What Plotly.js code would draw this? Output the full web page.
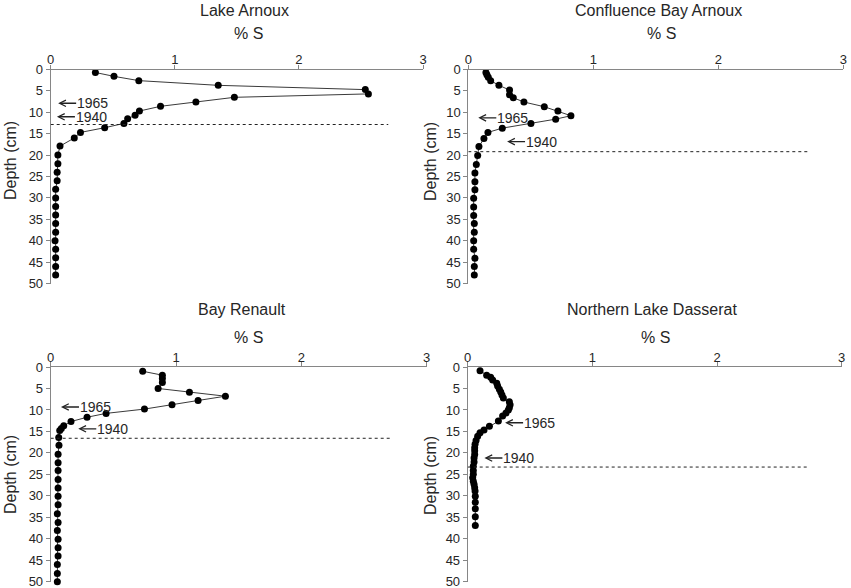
<!DOCTYPE html>
<html>
<head>
<meta charset="utf-8">
<script src="https://cdn.plot.ly/plotly-3.0.1.min.js"></script>
<style>
  html,body{margin:0;padding:0;background:#fff}
  #chart{width:851px;height:588px}
</style>
</head>
<body>
<div id="chart"></div>
<script>
// ═══════════════════════════════════════════
//  DATA — % S vs depth (cm), four cores
// ═══════════════════════════════════════════
const panelNames = ['Lake Arnoux','Confluence Bay Arnoux','Bay Renault','Northern Lake Dasserat'];

const depthLA = [0.7,1.6,2.6,3.7,4.7,5.7,6.5,7.6,8.6,9.7,10.7,11.5,12.6,13.6,14.7,16.0,17.9,20,22,24,26,28,30,32,34,36,38,40,42,44,46,48];
const sLA     = [0.36,0.51,0.71,1.35,2.535,2.56,1.48,1.17,0.885,0.715,0.68,0.62,0.59,0.435,0.24,0.19,0.075,0.058,0.058,0.052,0.052,0.04,0.04,0.04,0.04,0.04,0.04,0.035,0.04,0.04,0.04,0.04];

const depthCBA = [0.7,1.2,1.8,2.6,3.7,4.8,5.9,6.6,7.6,8.7,9.7,10.8,11.6,12.6,13.7,14.7,16.1,18,20.1,22.2,24.2,26.2,28.1,30.1,32.1,34.1,36,38,40,42,44.1,46,48];
const sCBA     = [0.141,0.149,0.16,0.179,0.245,0.33,0.33,0.36,0.445,0.608,0.717,0.821,0.699,0.501,0.272,0.157,0.125,0.085,0.075,0.064,0.053,0.053,0.053,0.043,0.043,0.043,0.048,0.048,0.043,0.043,0.053,0.048,0.048];

const depthBR = [1.0,1.9,2.7,3.6,5.0,5.9,6.8,7.8,8.8,9.8,10.8,11.7,12.7,13.7,14.3,14.8,16.4,18.2,20.3,22.3,24.1,26.2,28.2,30.1,32.1,34.2,36.2,38.1,40.1,42.1,44,46,48.1,50];
const sBR     = [0.734,0.891,0.891,0.891,0.857,1.107,1.394,1.176,0.968,0.748,0.442,0.29,0.162,0.104,0.085,0.072,0.064,0.066,0.059,0.059,0.059,0.059,0.059,0.059,0.059,0.053,0.059,0.053,0.059,0.059,0.059,0.053,0.053,0.053];

const depthNLD = [0.9,1.9,2.4,3.0,3.8,4.4,5.2,5.8,6.5,7.2,8.1,8.8,9.5,10.0,10.7,11.4,12.6,13.8,14.7,15.3,16.1,17.1,18.0,18.8,19.5,20.4,21.2,22.1,23.1,24.1,25.0,25.8,26.6,27.3,28.1,28.9,30.1,31.5,33.0,34.9,36.9];
const sNLD     = [0.099,0.152,0.184,0.2,0.233,0.24,0.254,0.265,0.275,0.286,0.334,0.34,0.334,0.326,0.307,0.28,0.246,0.174,0.131,0.099,0.08,0.067,0.059,0.056,0.056,0.056,0.051,0.051,0.045,0.045,0.045,0.04,0.045,0.051,0.056,0.059,0.061,0.061,0.061,0.061,0.061];

// dashed horizon depth per core, and dating marks (1965 / 1940)
const horizonDepth = [12.85, 19.2, 16.6, 23.3];
const horizonEnd   = 2.72;
const dateLabels   = ['1965','1940'];
const dateS        = [[0.06,0.05],[0.08,0.31],[0.082,0.22],[0.30,0.134]];
const dateDepth    = [[7.9,11.05],[11.3,16.85],[9.3,14.4],[13.0,21.2]];

const xTicks = [0,1,2,3];
const yTicks = [0,5,10,15,20,25,30,35,40,45,50];

// ═══════════════════════════════════════════
//  LAYOUT
// ═══════════════════════════════════════════
const W = 851, H = 588;
const px = x => x / W, py = y => 1 - y / H;
const FONT = 'Liberation Sans, Arial, sans-serif';
const TXT = '#262626', AXC = '#868686';

// pixel boxes of each plot area [left, right, top, bottom]
const boxes = [[50.7,423,69.5,283.5],[468.3,843.3,69.5,283.5],[50.7,426.7,367,581.7],[467.7,841.7,367,581.7]];
const titleY = [10,10,309,309], titleX = [244,658,242,652];
const unitY  = [33,33,337,337], unitX  = [248,661,248,655];
const depthTX = [10,430,10,430], depthTY = [161,161,475,475];

const series = [[depthLA,sLA],[depthCBA,sCBA],[depthBR,sBR],[depthNLD,sNLD]];

const traces = series.map(([d,s],i) => ({
  type:'scatter', mode:'lines+markers', x:s, y:d,
  xaxis: i ? 'x'+(i+1) : 'x', yaxis: i ? 'y'+(i+1) : 'y',
  line:{color:'#3a3a3a', width:1},
  marker:{color:'#000', size:7},
  cliponaxis:false, showlegend:false, hoverinfo:'x+y'
}));

const layout = {
  width:W, height:H, margin:{l:0,r:0,t:0,b:0},
  paper_bgcolor:'#fff', plot_bgcolor:'#fff',
  font:{family:FONT, color:TXT, size:13},
  showlegend:false, shapes:[], annotations:[]
};

boxes.forEach(([l,r,t,b],i) => {
  const n = i ? String(i+1) : '';
  layout['xaxis'+n] = {
    domain:[px(l),px(r)], anchor:'y'+n, side:'top', range:[0,3],
    tickvals:xTicks, ticktext:xTicks.map(String),
    showgrid:false, zeroline:false, showline:true, linecolor:AXC, linewidth:1,
    ticks:'outside', ticklen:4, tickcolor:AXC, ticklabelstandoff:-5,
    ticklabeloverflow:'allow', tickfont:{size:13, color:TXT}, fixedrange:true
  };
  layout['yaxis'+n] = {
    domain:[py(b),py(t)], anchor:'x'+n, range:[50,0],
    tickvals:yTicks, ticktext:yTicks.map(String),
    showgrid:false, zeroline:false, showline:true, linecolor:AXC, linewidth:1,
    ticks:'outside', ticklen:4, tickcolor:AXC,
    ticklabeloverflow:'allow', tickfont:{size:13, color:TXT}, fixedrange:true
  };

  // dashed horizon
  layout.shapes.push({type:'line', xref:'x'+n, yref:'y'+n,
    x0:0, x1:horizonEnd, y0:horizonDepth[i], y1:horizonDepth[i],
    line:{color:'#222', width:1, dash:'dot'}});

  // panel title, x unit, y title
  layout.annotations.push(
    {text:panelNames[i], xref:'paper', yref:'paper', x:px(titleX[i]), y:py(titleY[i]),
     showarrow:false, xanchor:'center', yanchor:'middle', font:{size:16, color:TXT}},
    {text:'% S', xref:'paper', yref:'paper', x:px(unitX[i]), y:py(unitY[i]),
     showarrow:false, xanchor:'center', yanchor:'middle', font:{size:16, color:TXT}},
    {text:'Depth (cm)', xref:'paper', yref:'paper', x:px(depthTX[i]), y:py(depthTY[i]),
     showarrow:false, textangle:-90, xanchor:'center', yanchor:'middle', font:{size:16, color:TXT}}
  );

  // dating arrows: chevron head pointing at the dated depth
  dateLabels.forEach((lbl,k) => {
    layout.annotations.push({text:lbl, xref:'x'+n, yref:'y'+n,
      x:dateS[i][k], y:dateDepth[i][k], showarrow:true,
      ax:18, ay:0, arrowhead:5, arrowsize:0.9, arrowwidth:1.4, arrowcolor:'#222',
      standoff:0, startstandoff:0, borderpad:0,
      xanchor:'left', yanchor:'middle', font:{size:14, color:TXT}});
  });
});

Plotly.newPlot('chart', traces, layout, {displayModeBar:false, staticPlot:true});
</script>
</body>
</html>
